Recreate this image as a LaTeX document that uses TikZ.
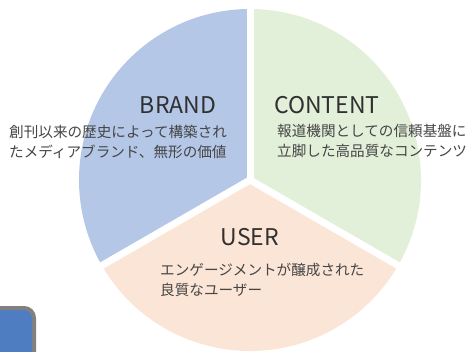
\documentclass[tikz,border=0pt]{standalone}
\usepackage{fontspec}
\setmainfont{Noto Sans CJK JP}

\definecolor{brandblue}{HTML}{B4C7E7}
\definecolor{contentgreen}{HTML}{E2F0D9}
\definecolor{userpeach}{HTML}{FBE5D6}
\definecolor{btnblue}{HTML}{4E7DC2}
\definecolor{btnedge}{HTML}{808080}
\definecolor{inkgray}{HTML}{303030}

\tikzset{
  title/.style={inner sep=0pt, text=inkgray, font=\fontsize{23}{27}\selectfont},
  desc/.style={inner sep=0pt, anchor=west, align=left, text=inkgray!90,
    font=\fontsize{14.6}{20.5}\selectfont},
  gap/.style={white, line width=7pt}
}

\begin{document}
\begin{tikzpicture}[x=1pt, y=1pt]
    \useasboundingbox (0,0) rectangle (466,351);
    \clip (0,0) rectangle (466,351);
    \coordinate (O) at (250,171);
    \def\rad{171}

    % the three sectors
    \fill[brandblue] (O) -- ++(90:\rad) arc (90:210:\rad) -- cycle;
    \fill[userpeach] (O) -- ++(210:\rad) arc (210:330:\rad) -- cycle;
    \fill[contentgreen] (O) -- ++(330:\rad) arc (-30:90:\rad) -- cycle;
    \foreach \a in {90,210,330}
        \draw[gap] (O) -- ++(\a:\rad+4);

    % labels
    \node[title] (brand) at (178,246) {BRAND};
    \node[desc] (branddesc) at (9,209) {創刊以来の歴史によって構築され\\たメディアブランド、無形の価値};
    \node[title] (content) at (327,246) {CONTENT};
    \node[desc] (contentdesc) at (277,210) {報道機関としての信頼基盤に\\立脚した高品質なコンテンツ};
    \node[title] (user) at (250,114) {USER};
    \node[desc] (userdesc) at (160,71) {エンゲージメントが醸成された\\良質なユーザー};

    % button in the corner
    \node[draw=btnedge, fill=btnblue, line width=4pt, rounded corners=10pt,
        minimum width=60pt, minimum height=56pt, inner sep=0pt] (btn) at (4,15) {};
\end{tikzpicture}
\end{document}
